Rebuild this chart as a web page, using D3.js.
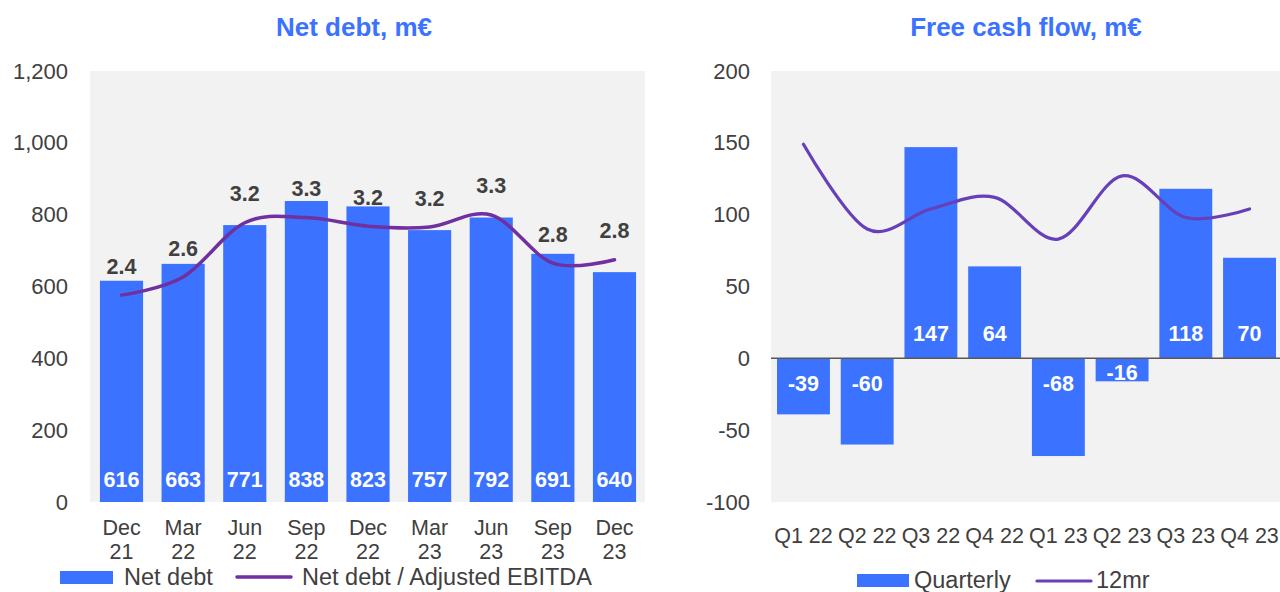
<!DOCTYPE html>
<html>
<head>
<meta charset="utf-8">
<script src="https://cdn.jsdelivr.net/npm/d3@7"></script>
<style>
  body { margin: 0; background: #fff; }
  svg { display: block; font-family: "Liberation Sans", Arial, sans-serif; }
</style>
</head>
<body>
<svg id="chart" width="1280" height="592"></svg>
<script>
// Net debt panel
const periods = ["Dec 21", "Mar 22", "Jun 22", "Sep 22", "Dec 22", "Mar 23", "Jun 23", "Sep 23", "Dec 23"];
const netDebt = [616, 663, 771, 838, 823, 757, 792, 691, 640];
const leverage = [2.40, 2.61, 3.24, 3.30, 3.20, 3.19, 3.33, 2.77, 2.81];
const debtTicks = [0, 200, 400, 600, 800, 1000, 1200];

// Free cash flow panel
const quarters = ["Q1 22", "Q2 22", "Q3 22", "Q4 22", "Q1 23", "Q2 23", "Q3 23", "Q4 23"];
const fcfQuarterly = [-39, -60, 147, 64, -68, -16, 118, 70];
const fcf12mr = [149, 90, 104, 112, 83, 127, 98, 104];
const fcfTicks = [-100, -50, 0, 50, 100, 150, 200];

const blue = "#3b72ff";
const textGray = "#404040";
const plotTop = 71, plotBottom = 502;

let svg = d3.select("#chart");

// ---------- left chart ----------
let xL = d3.scaleBand().domain(periods).range([90.7, 645.3]).paddingInner(0.30).paddingOuter(0.15);
let yL = d3.scaleLinear().domain([0, 1200]).range([plotBottom, plotTop]);
let yR = d3.scaleLinear().domain([0, 5]).range([plotBottom, plotTop]);

svg.append("rect").attr("x", 90).attr("y", plotTop).attr("width", 555).attr("height", plotBottom - plotTop).attr("fill", "#f2f2f2");

svg.append("text").attr("x", 354).attr("y", 36).attr("text-anchor", "middle")
    .attr("font-size", 26).attr("font-weight", "bold").attr("fill", blue).text("Net debt, m€");

let axL = svg.append("g").attr("transform", `translate(90,0)`)
    .call(d3.axisLeft(yL).tickValues(debtTicks).tickSize(0).tickPadding(22).tickFormat(d3.format(",")));
axL.select(".domain").remove();
axL.selectAll("text").attr("font-size", 22).attr("fill", textGray).attr("font-family", null);

svg.append("g").selectAll("rect").data(netDebt).enter().append("rect")
    .attr("x", (d, i) => xL(periods[i]))
    .attr("y", d => yL(d))
    .attr("width", xL.bandwidth())
    .attr("height", d => yL(0) - yL(d))
    .attr("fill", blue);

svg.append("g").selectAll("text").data(netDebt).enter().append("text")
    .attr("x", (d, i) => xL(periods[i]) + xL.bandwidth() / 2)
    .attr("y", yL(0) - 23)
    .attr("dy", "0.35em")
    .attr("text-anchor", "middle")
    .attr("font-size", 21.5).attr("font-weight", "bold").attr("fill", "#fff")
    .text(d => d);

let lineL = d3.line()
    .x((d, i) => xL(periods[i]) + xL.bandwidth() / 2)
    .y(d => yR(d))
    .curve(d3.curveCatmullRom.alpha(0));
svg.append("path").datum(leverage).attr("d", lineL)
    .attr("fill", "none").attr("stroke", "#7030a0").attr("stroke-width", 3.5).attr("stroke-linecap", "round");

svg.append("g").selectAll("text").data(leverage).enter().append("text")
    .attr("x", (d, i) => xL(periods[i]) + xL.bandwidth() / 2)
    .attr("y", d => yR(d) - 29)
    .attr("dy", "0.35em")
    .attr("text-anchor", "middle")
    .attr("font-size", 21.5).attr("font-weight", "bold").attr("fill", textGray)
    .text(d => d.toFixed(1));

let xaL = svg.append("g").attr("transform", `translate(0,${plotBottom})`)
    .call(d3.axisBottom(xL).tickSize(0).tickPadding(18));
xaL.select(".domain").remove();
xaL.selectAll("text").attr("font-size", 21.5).attr("fill", textGray).attr("font-family", null)
    .each(function(d) {
        let parts = d.split(" ");
        let t = d3.select(this).text(null);
        t.append("tspan").attr("x", 0).text(parts[0]);
        t.append("tspan").attr("x", 0).attr("dy", 24).text(parts[1]);
    });

// legend left
svg.append("rect").attr("x", 60).attr("y", 571).attr("width", 53).attr("height", 13).attr("fill", blue);
svg.append("text").attr("x", 124).attr("y", 585).attr("font-size", 23.5).attr("fill", textGray).text("Net debt");
svg.append("line").attr("x1", 237).attr("x2", 291).attr("y1", 577).attr("y2", 577)
    .attr("stroke", "#7030a0").attr("stroke-width", 3.5).attr("stroke-linecap", "round");
svg.append("text").attr("x", 302).attr("y", 585).attr("font-size", 23.5).attr("fill", textGray).text("Net debt / Adjusted EBITDA");

// ---------- right chart ----------
let xF = d3.scaleBand().domain(quarters).range([771.6, 1281.4]).paddingInner(0.17).paddingOuter(0.085);
let yF = d3.scaleLinear().domain([-100, 200]).range([plotBottom, plotTop]);

svg.append("rect").attr("x", 771).attr("y", plotTop).attr("width", 509).attr("height", plotBottom - plotTop).attr("fill", "#f2f2f2");

svg.append("text").attr("x", 1026).attr("y", 36).attr("text-anchor", "middle")
    .attr("font-size", 26).attr("font-weight", "bold").attr("fill", blue).text("Free cash flow, m€");

let axF = svg.append("g").attr("transform", `translate(771,0)`)
    .call(d3.axisLeft(yF).tickValues(fcfTicks).tickSize(0).tickPadding(21).tickFormat(d => String(d)));
axF.select(".domain").remove();
axF.selectAll("text").attr("font-size", 22).attr("fill", textGray).attr("font-family", null);

svg.append("g").selectAll("rect").data(fcfQuarterly).enter().append("rect")
    .attr("x", (d, i) => xF(quarters[i]))
    .attr("y", d => yF(Math.max(0, d)))
    .attr("width", xF.bandwidth())
    .attr("height", d => Math.abs(yF(d) - yF(0)))
    .attr("fill", blue);

svg.append("line").attr("x1", 771).attr("x2", 1280).attr("y1", yF(0)).attr("y2", yF(0))
    .attr("stroke", "#595959").attr("stroke-width", 1.5);

svg.append("g").selectAll("text").data(fcfQuarterly).enter().append("text")
    .attr("x", (d, i) => xF(quarters[i]) + xF.bandwidth() / 2)
    .attr("y", d => {
        let h = Math.abs(yF(d) - yF(0));
        let off = Math.min(25, h / 2 + 3);
        return d >= 0 ? yF(0) - off : yF(0) + off;
    })
    .attr("dy", "0.35em")
    .attr("text-anchor", "middle")
    .attr("font-size", 21.5).attr("font-weight", "bold").attr("fill", "#fff")
    .text(d => String(d));

let lineF = d3.line()
    .x((d, i) => xF(quarters[i]) + xF.bandwidth() / 2)
    .y(d => yF(d))
    .curve(d3.curveCatmullRom.alpha(0));
svg.append("path").datum(fcf12mr).attr("d", lineF)
    .attr("fill", "none").attr("stroke", "#6740b9").attr("stroke-width", 3.2).attr("stroke-linecap", "round");

let xaF = svg.append("g").attr("transform", `translate(0,${plotBottom})`)
    .call(d3.axisBottom(xF).tickSize(0).tickPadding(26));
xaF.select(".domain").remove();
xaF.selectAll("text").attr("font-size", 21.5).attr("fill", textGray).attr("font-family", null);

// legend right
svg.append("rect").attr("x", 857).attr("y", 574).attr("width", 52).attr("height", 13).attr("fill", blue);
svg.append("text").attr("x", 914).attr("y", 588).attr("font-size", 23.5).attr("fill", textGray).text("Quarterly");
svg.append("line").attr("x1", 1037).attr("x2", 1091).attr("y1", 581).attr("y2", 581)
    .attr("stroke", "#6740b9").attr("stroke-width", 3.2).attr("stroke-linecap", "round");
svg.append("text").attr("x", 1096).attr("y", 588).attr("font-size", 23.5).attr("fill", textGray).text("12mr");
</script>
</body>
</html>
